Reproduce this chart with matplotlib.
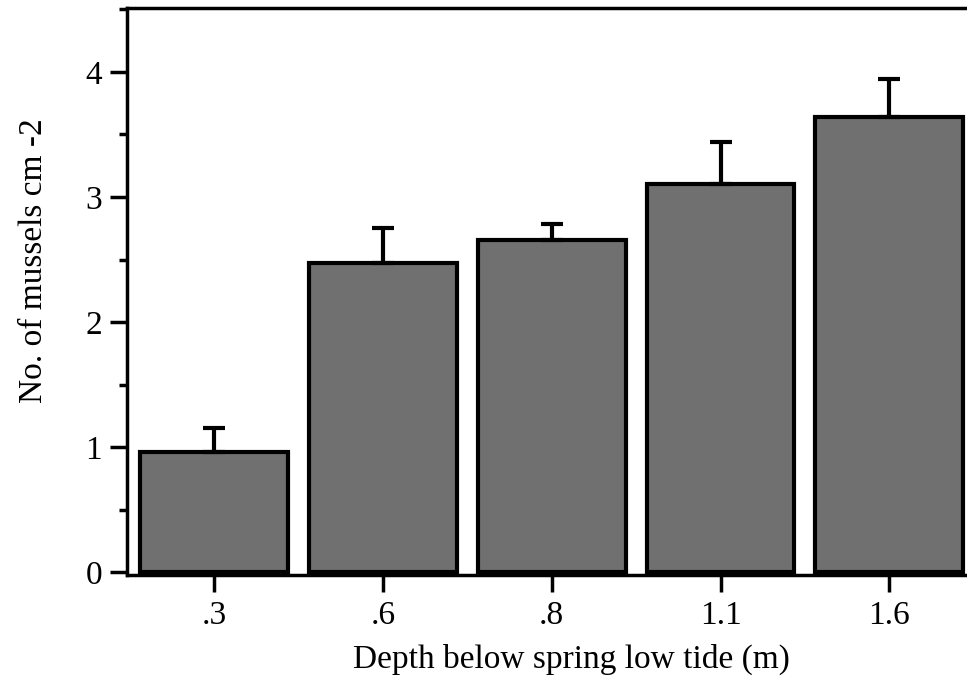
import matplotlib.pyplot as plt
from matplotlib.ticker import MultipleLocator

# data
depths = ['.3', '.6', '.8', '1.1', '1.6']
means = [0.96, 2.47, 2.66, 3.10, 3.64]
errors = [0.19, 0.28, 0.12, 0.34, 0.30]

plt.rcParams['font.family'] = ['Liberation Serif', 'DejaVu Serif']

fig = plt.figure(figsize=(9.67, 6.83), dpi=100)
ax = fig.add_axes([0.1315, 0.158, 0.8685, 0.830])

x = list(range(len(depths)))
ax.bar(x, means, width=0.875, color='#707070', edgecolor='black', linewidth=3,
       yerr=[[0] * len(errors), errors], capsize=8,
       error_kw=dict(ecolor='black', elinewidth=3, capthick=3), zorder=2)

ax.set_xlim(-0.515, 4.46)
ax.set_ylim(-0.024, 4.51)
ax.set_xticks(x)
ax.set_xticklabels(depths)
ax.yaxis.set_major_locator(MultipleLocator(1))
ax.yaxis.set_minor_locator(MultipleLocator(0.5))

for side in ['left', 'bottom', 'top']:
    ax.spines[side].set_linewidth(2.5)
ax.spines['right'].set_visible(False)

ax.tick_params(axis='both', which='major', direction='out', length=12, width=2.5,
               labelsize=24, pad=6)
ax.tick_params(axis='y', which='minor', direction='out', length=6, width=2.5)

ax.set_xlabel('Depth below spring low tide (m)', fontsize=24)
ax.set_ylabel('No. of mussels cm -2', fontsize=24)
# original axes ran past the right edge of the scan, so labels sit off-centre
ax.xaxis.set_label_coords(0.529, -0.122)
ax.yaxis.set_label_coords(-0.093, 0.555)

fig.savefig('out.png', dpi=100)
